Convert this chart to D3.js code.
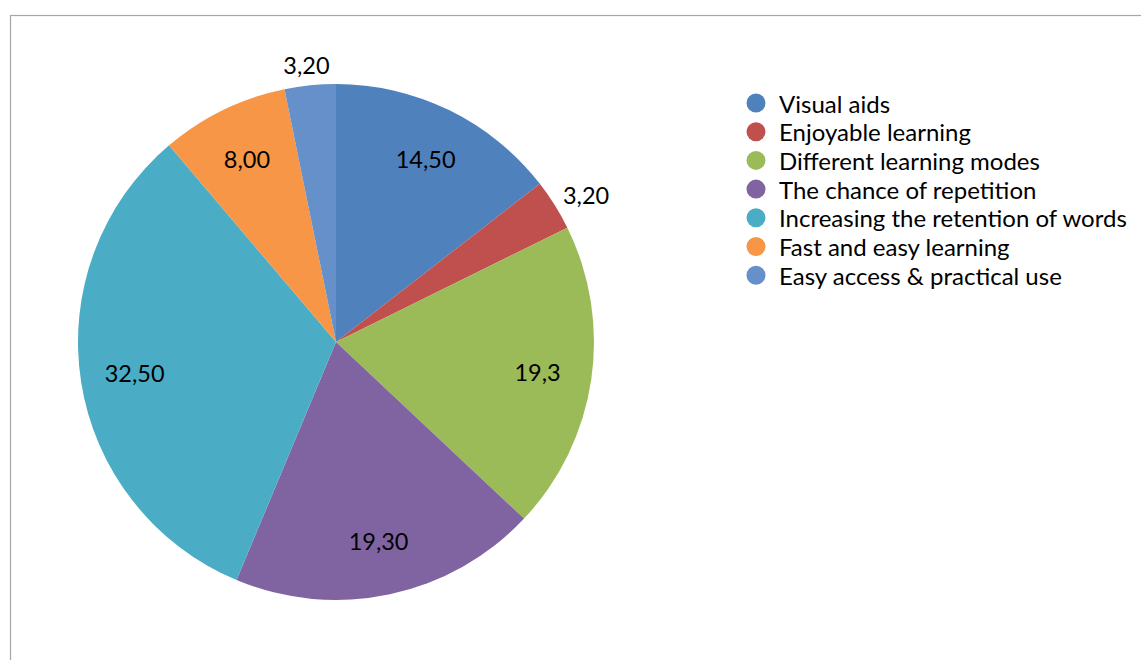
<!DOCTYPE html>
<html>
<head>
<meta charset="utf-8">
<script src="https://cdn.jsdelivr.net/npm/d3@7"></script>
<style>
  body { margin: 0; background: #fff; }
  text { font-family: Lato, "Open Sans", sans-serif; fill: #000; }
</style>
</head>
<body>
<div id="chart"></div>
<script>
// chart data
var categories = ["Visual aids", "Enjoyable learning", "Different learning modes",
    "The chance of repetition", "Increasing the retention of words",
    "Fast and easy learning", "Easy access & practical use"];
var values = [14.5, 3.2, 19.3, 19.3, 32.5, 8.0, 3.2];
var valueLabels = ["14,50", "3,20", "19,3", "19,30", "32,50", "8,00", "3,20"];
var colors = ["#4F81BD", "#C0504D", "#9BBB59", "#8064A2", "#4BACC6", "#F79646", "#6590C9"];

var svgWidth = 1141;
var svgHeight = 660;
var radius = 258;
var cx = 336, cy = 342;

var svg = d3.select("#chart")
    .append("svg")
    .attr("width", svgWidth)
    .attr("height", svgHeight);

// frame (left and top edges visible)
svg.append("rect")
    .attr("x", 10.5)
    .attr("y", 15.5)
    .attr("width", svgWidth)
    .attr("height", svgHeight)
    .attr("fill", "none")
    .attr("stroke", "#a6a6a6")
    .attr("stroke-width", 1.2);

var data = categories.map((c, i) => ({ name: c, value: values[i], label: valueLabels[i], color: colors[i] }));

var pie = d3.pie()
    .sort(null)
    .value(d => d.value);

var arc = d3.arc()
    .innerRadius(0)
    .outerRadius(radius);

var pieGroup = svg.append("g")
    .attr("transform", `translate(${cx}, ${cy})`);

var arcs = pie(data);

pieGroup.selectAll("path")
    .data(arcs)
    .enter()
    .append("path")
    .attr("d", arc)
    .attr("fill", d => d.data.color);

// labels: small slices go outside the pie
var fontSize = 23.5;
pieGroup.selectAll("text.val")
    .data(arcs)
    .enter()
    .append("text")
    .attr("class", "val")
    .attr("text-anchor", "middle")
    .attr("dominant-baseline", "central")
    .style("font-size", fontSize + "px")
    .each(function (d) {
        var a = (d.startAngle + d.endAngle) / 2;
        var x, y;
        if (d.data.value < 5) {
            var r = radius + 14;
            var w = d.data.label.length * 11.5;
            x = Math.sin(a) * r + Math.sin(a) * w / 2;
            y = -Math.cos(a) * r - Math.cos(a) * 6;
        } else {
            var r2 = radius * 0.79;
            x = Math.sin(a) * r2;
            y = -Math.cos(a) * r2;
        }
        d3.select(this).attr("x", x).attr("y", y);
    })
    .text(d => d.data.label);

// legend
var legend = svg.append("g")
    .attr("transform", "translate(756, 103)");

var rows = legend.selectAll("g")
    .data(data)
    .enter()
    .append("g")
    .attr("transform", (d, i) => `translate(0, ${i * 28.7})`);

rows.append("circle")
    .attr("r", 9.5)
    .attr("fill", d => d.color);

rows.append("text")
    .attr("x", 23)
    .attr("y", 0)
    .attr("dominant-baseline", "central")
    .style("font-size", "24px")
    .text(d => d.name);
</script>
</body>
</html>
